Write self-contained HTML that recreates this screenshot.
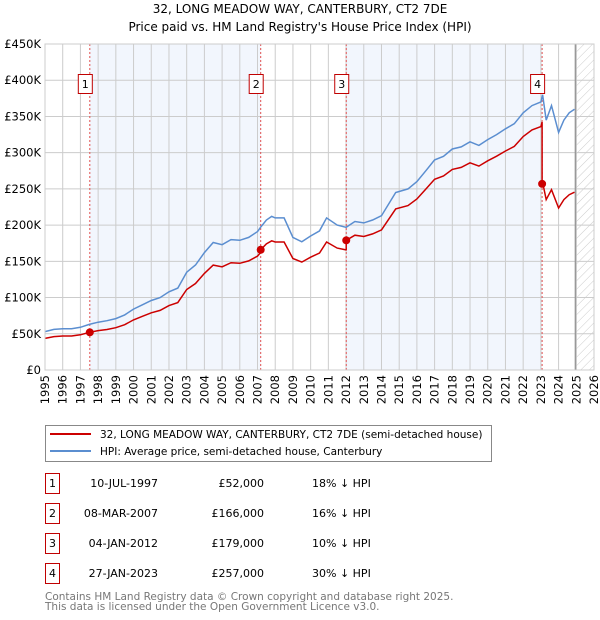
<!DOCTYPE html>
<html><head><meta charset="utf-8"><style>
html,body{margin:0;padding:0;background:#fff;}
svg{display:block;font-family:"DejaVu Sans","Liberation Sans",sans-serif;}
</style></head><body>
<svg id="chart" width="600" height="620" viewBox="0 0 600 620" xmlns="http://www.w3.org/2000/svg">
<defs>
<pattern id="hatch" patternUnits="userSpaceOnUse" width="6" height="6" patternTransform="rotate(45)">
<line x1="0" y1="0" x2="0" y2="6" stroke="#ccc" stroke-width="1"/>
</pattern>
</defs>
<text x="300" y="13" text-anchor="middle" font-size="12" fill="#000">32, LONG MEADOW WAY, CANTERBURY, CT2 7DE</text>
<text x="300" y="31" text-anchor="middle" font-size="12" fill="#000">Price paid vs. HM Land Registry's House Price Index (HPI)</text>
<g id="plot"></g>
<g>
<rect x="45.5" y="425.5" width="446" height="36" fill="#fff" stroke="#888"/>
<line x1="50" y1="434" x2="91" y2="434" stroke="#cc0000" stroke-width="2"/>
<text x="100" y="438" font-size="10.5">32, LONG MEADOW WAY, CANTERBURY, CT2 7DE (semi-detached house)</text>
<line x1="50" y1="451" x2="91" y2="451" stroke="#5b8ed0" stroke-width="2"/>
<text x="100" y="455" font-size="10.5">HPI: Average price, semi-detached house, Canterbury</text>
</g>
<g id="table"></g>
<text x="45" y="600" font-size="10.5" fill="#777">Contains HM Land Registry data © Crown copyright and database right 2025.</text>
<text x="45" y="610" font-size="10.5" fill="#777">This data is licensed under the Open Government Licence v3.0.</text>
</svg>
<script>
const hpiDates=[1995,1995.5,1996,1996.5,1997,1997.5,1998,1998.5,1999,1999.5,2000,2000.5,2001,2001.5,2002,2002.5,2003,2003.5,2004,2004.5,2005,2005.5,2006,2006.5,2007,2007.2,2007.5,2007.8,2008,2008.5,2009,2009.5,2010,2010.5,2010.9,2011.5,2012,2012.5,2013,2013.5,2014,2014.8,2015.5,2016,2016.5,2017,2017.5,2018,2018.5,2019,2019.5,2020,2020.5,2021,2021.5,2022,2022.5,2023,2023.1,2023.3,2023.6,2024,2024.3,2024.6,2024.9];
const hpiValues=[53,56,57,57,59,63,66,68,71,76,84,90,96,100,108,113,135,145,162,176,173,180,179,183,191,198,207,212,210,210,183,177,185,192,210,200,197,205,203,207,213,245,250,260,275,290,295,305,308,315,310,318,325,333,340,355,365,370,380,345,365,328,345,355,360];
const saleDates=[1997.53,2007.18,2012.01,2023.07];
const salePrices=[52,166,179,257];
const saleLabels=["10-JUL-1997","08-MAR-2007","04-JAN-2012","27-JAN-2023"];
const salePriceText=["£52,000","£166,000","£179,000","£257,000"];
const salePctText=["18% ↓ HPI","16% ↓ HPI","10% ↓ HPI","30% ↓ HPI"];
const yTicks=[0,50,100,150,200,250,300,350,400,450];
const yTickLabels=["£0","£50K","£100K","£150K","£200K","£250K","£300K","£350K","£400K","£450K"];
const xYears=[1995,1996,1997,1998,1999,2000,2001,2002,2003,2004,2005,2006,2007,2008,2009,2010,2011,2012,2013,2014,2015,2016,2017,2018,2019,2020,2021,2022,2023,2024,2025,2026];
const dataEnd=2024.95;

const NS="http://www.w3.org/2000/svg";
const X0=45,X1=594,Y0=370,Y1=44;
const xs=t=>X0+(t-1995)/(2026-1995)*(X1-X0);
const ys=v=>Y0-v/450*(Y0-Y1);
function mk(tag,attrs,parent){const e=document.createElementNS(NS,tag);for(const k in attrs)e.setAttribute(k,attrs[k]);parent.appendChild(e);return e;}
const plot=document.getElementById('plot');
function hpiAt(t){for(let i=0;i<hpiDates.length-1;i++){if(t>=hpiDates[i]&&t<=hpiDates[i+1]){const f=(t-hpiDates[i])/(hpiDates[i+1]-hpiDates[i]);return hpiValues[i]+f*(hpiValues[i+1]-hpiValues[i]);}}return hpiValues[hpiValues.length-1];}

let e;
e=mk('rect',{x:X0,y:Y1,width:X1-X0,height:Y0-Y1,fill:'#fff'},plot);
for(const [a,b] of [[0,1],[2,3]]){
 e=mk('rect',{x:xs(saleDates[a]),y:Y1,width:xs(saleDates[b])-xs(saleDates[a]),height:Y0-Y1,fill:'#eef3fc',opacity:0.75},plot);
 
 
}
e=mk('rect',{x:xs(dataEnd),y:Y1,width:X1-xs(dataEnd),height:Y0-Y1,fill:'url(#hatch)'},plot);


yTicks.forEach((v,i)=>{
 e=mk('line',{x1:X0,x2:X1,y1:ys(v),y2:ys(v),stroke:'#ccc','stroke-width':1},plot);
 
 
 e=mk('text',{x:X0-4,y:ys(v)+4,'text-anchor':'end','font-size':11.5},plot);
 e.textContent=yTickLabels[i];
 
 
});
xYears.forEach(yr=>{
 e=mk('line',{x1:xs(yr),x2:xs(yr),y1:Y1,y2:Y0,stroke:'#ccc','stroke-width':1},plot);
 
 
 e=mk('text',{x:0,y:0,'text-anchor':'end','font-size':11.5,transform:`translate(${xs(yr)+4},${Y0+5}) rotate(-90)`},plot);
 e.textContent=yr;
 
 
});
e=mk('line',{x1:xs(dataEnd),x2:xs(dataEnd),y1:Y1,y2:Y0,stroke:'#999','stroke-width':1.5},plot);


saleDates.forEach((d,i)=>{
 e=mk('line',{x1:xs(d),x2:xs(d),y1:Y1,y2:Y0,stroke:'#e05050','stroke-width':1,'stroke-dasharray':'2,2'},plot);
 
 
 e=mk('rect',{x:xs(d)-11.5,y:74.5,width:14,height:19,fill:'#fff',stroke:'#c00000'},plot);
 
 
 e=mk('text',{x:xs(d)-4.5,y:88,'text-anchor':'middle','font-size':11},plot);
 e.textContent=String(i+1);
 
 
});
// HPI line
let pts=hpiDates.map((t,i)=>xs(t).toFixed(1)+','+ys(hpiValues[i]).toFixed(1)).join(' ');
e=mk('polyline',{points:pts,fill:'none',stroke:'#5b8ed0','stroke-width':1.5},plot);


// property line derived from sales & HPI
const ratios=saleDates.map((d,i)=>salePrices[i]/hpiAt(d));
function seg(t){let s=0;for(let i=0;i<saleDates.length;i++)if(t>=saleDates[i])s=i;return s;}
let rp=[];
const times=[...hpiDates,...saleDates].sort((a,b)=>a-b);
times.forEach(t=>{
 const s=seg(t);
 const si=saleDates.indexOf(t);
 if(si>0){rp.push([t,hpiAt(t)*ratios[si-1]]);}
 rp.push([t,hpiAt(t)*ratios[s]]);
});
e=mk('polyline',{points:rp.map(p=>xs(p[0]).toFixed(1)+','+ys(p[1]).toFixed(1)).join(' '),fill:'none',stroke:'#cc0000','stroke-width':1.5},plot);


saleDates.forEach((d,i)=>{
 e=mk('circle',{cx:xs(d),cy:ys(salePrices[i]),r:4,fill:'#cc0000'},plot);
 
 
});
e=mk('rect',{x:X0,y:Y1,width:X1-X0,height:Y0-Y1,fill:'none',stroke:'#ccc'},plot);
// table
const tbl=document.getElementById('table');
saleDates.forEach((d,i)=>{
 const cy=483+i*30;
 e=mk('rect',{x:45.5,y:cy-9.5,width:14,height:20,fill:'#fff',stroke:'#c00000'},tbl);
 
 
 e=mk('text',{x:52.5,y:cy+4,'text-anchor':'middle','font-size':11},tbl);
 e.textContent=String(i+1);
 
 
 e=mk('text',{x:158,y:cy+4,'text-anchor':'end','font-size':11},tbl);
 e.textContent=saleLabels[i];
 
 
 e=mk('text',{x:264,y:cy+4,'text-anchor':'end','font-size':11},tbl);
 e.textContent=salePriceText[i];
 
 
 e=mk('text',{x:312,y:cy+4,'font-size':11},tbl);
 e.textContent=salePctText[i];
 
 
});
</script>
</body></html>
